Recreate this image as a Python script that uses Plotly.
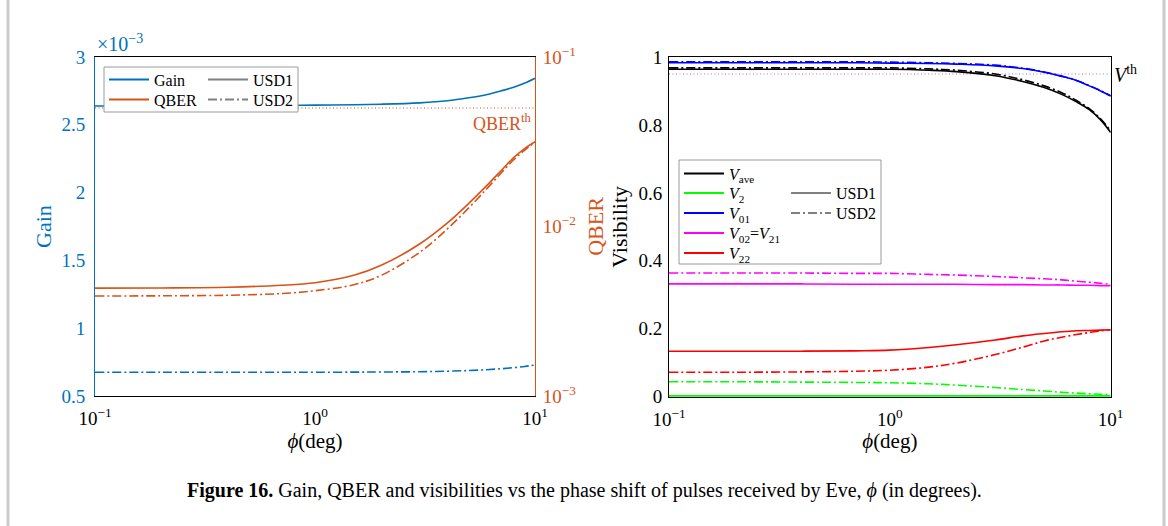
import numpy as np
import plotly.graph_objects as go

W, H = 1168, 526

# Phase shift of the pulses received by Eve (degrees)
phi = [0.1, 0.2, 0.4, 0.7, 1.0, 1.5, 2.0, 3.0, 4.0, 5.0, 6.0, 7.0, 8.0, 9.0, 10.0]

# Gain (in units of 1e-3)
gain_usd1 = [2.639, 2.639, 2.640, 2.642, 2.645, 2.648, 2.652, 2.662, 2.677, 2.699, 2.722, 2.750, 2.777, 2.808, 2.843]
gain_usd2 = [0.675, 0.675, 0.675, 0.675, 0.675, 0.676, 0.677, 0.679, 0.683, 0.688, 0.694, 0.701, 0.709, 0.718, 0.729]

# QBER
qber_usd1 = [0.00433, 0.00434, 0.00438, 0.00450, 0.00466, 0.00515, 0.00590, 0.00791, 0.01050,
             0.01370, 0.01730, 0.02130, 0.02550, 0.02890, 0.03160]
qber_usd2 = [0.00389, 0.00390, 0.00393, 0.00402, 0.00418, 0.00453, 0.00515, 0.00706, 0.00969,
             0.01288, 0.01656, 0.02061, 0.02477, 0.02831, 0.03141]
qber_th = 0.05

# Visibilities
v_ave_usd1 = [0.964, 0.964, 0.964, 0.964, 0.964, 0.961, 0.957, 0.945, 0.928, 0.910, 0.890, 0.868, 0.845, 0.815, 0.778]
v_ave_usd2 = [0.968, 0.968, 0.968, 0.968, 0.968, 0.965, 0.961, 0.950, 0.933, 0.915, 0.895, 0.872, 0.848, 0.818, 0.782]
v2_usd1 = [0.0] * 15
v2_usd2 = [0.044, 0.044, 0.043, 0.042, 0.041, 0.038, 0.034, 0.027, 0.021, 0.017, 0.013, 0.0105, 0.0085, 0.007, 0.006]
v01_usd1 = [0.983, 0.983, 0.983, 0.983, 0.982, 0.981, 0.979, 0.974, 0.966, 0.955, 0.943, 0.931, 0.915, 0.900, 0.885]
v01_usd2 = [0.986, 0.986, 0.986, 0.986, 0.985, 0.983, 0.981, 0.976, 0.967, 0.956, 0.944, 0.931, 0.916, 0.901, 0.886]
v02_usd1 = [0.332, 0.332, 0.332, 0.331, 0.331, 0.331, 0.331, 0.330, 0.330, 0.329, 0.329, 0.328, 0.328, 0.327, 0.327]
v02_usd2 = [0.364, 0.364, 0.364, 0.363, 0.363, 0.360, 0.358, 0.354, 0.350, 0.347, 0.344, 0.340, 0.337, 0.334, 0.331]
v22_usd1 = [0.134, 0.134, 0.134, 0.135, 0.137, 0.145, 0.153, 0.167, 0.179, 0.186, 0.191, 0.194, 0.195, 0.196, 0.197]
v22_usd2 = [0.072, 0.072, 0.073, 0.075, 0.078, 0.087, 0.099, 0.124, 0.146, 0.164, 0.175, 0.183, 0.189, 0.194, 0.197]
v_th = 0.95

log_ticks = [0.1, 1, 10]
log_ticktext = ["10<sup>−1</sup>", "10<sup>0</sup>", "10<sup>1</sup>"]
qber_ticks = [0.001, 0.01, 0.1]
qber_ticktext = ["10<sup>−3</sup>", "10<sup>−2</sup>", "10<sup>−1</sup>"]
gain_ticks = [0.5, 1, 1.5, 2, 2.5, 3]
gain_ticktext = ["0.5", "1", "1.5", "2", "2.5", "3"]
vis_ticks = [0, 0.2, 0.4, 0.6, 0.8, 1]
vis_ticktext = ["0", "0.2", "0.4", "0.6", "0.8", "1"]

BLUE = "#0072BD"
ORANGE = "#D95319"
GRAY = "#808080"
DASHDOT = "9px,3px,2px,3px"
FONT = "Liberation Serif"

fig = go.Figure()


def px_x(v):
    return v / W


def px_y(v):
    return 1 - v / H


def curve(x, y, color, dash, xa, ya, width=1.6):
    fig.add_trace(go.Scatter(x=x, y=y, mode="lines", xaxis=xa, yaxis=ya,
                             line=dict(color=color, width=width, dash=dash, shape="spline", smoothing=1.0),
                             showlegend=False, hoverinfo="skip"))


# Left panel: gain and QBER
curve(phi, gain_usd1, BLUE, "solid", "x", "y")
curve(phi, gain_usd2, BLUE, DASHDOT, "x", "y")
curve(phi, qber_usd1, ORANGE, "solid", "x", "y2")
curve(phi, qber_usd2, ORANGE, DASHDOT, "x", "y2")
fig.add_trace(go.Scatter(x=[phi[0], phi[-1]], y=[qber_th, qber_th], mode="lines", xaxis="x", yaxis="y2",
                         line=dict(color=ORANGE, width=1.2, dash="1px,2.5px"), showlegend=False, hoverinfo="skip"))

# Right panel: visibilities
fig.add_trace(go.Scatter(x=[phi[0], phi[-1]], y=[v_th, v_th], mode="lines", xaxis="x2", yaxis="y3",
                         line=dict(color="#b070d0", width=1.2, dash="1px,2.5px"), showlegend=False, hoverinfo="skip"))
curve(phi, v2_usd1, "#00FF00", "solid", "x2", "y3", width=3.5)
curve(phi, v2_usd2, "#00FF00", DASHDOT, "x2", "y3")
curve(phi, v02_usd1, "#FF00FF", "solid", "x2", "y3")
curve(phi, v02_usd2, "#FF00FF", DASHDOT, "x2", "y3")
curve(phi, v22_usd1, "#FF0000", "solid", "x2", "y3")
curve(phi, v22_usd2, "#FF0000", DASHDOT, "x2", "y3")
curve(phi, v01_usd1, "#0000FF", "solid", "x2", "y3")
curve(phi, v01_usd2, "#0000FF", DASHDOT, "x2", "y3")
curve(phi, v_ave_usd1, "black", "solid", "x2", "y3")
curve(phi, v_ave_usd2, "black", DASHDOT, "x2", "y3")

# Legend entries: one single-item legend per row so the rows can sit tightly
legend_layout = {}
legend_rows = [
    ("Gain", BLUE, "solid", 104, 79.5),
    ("QBER", ORANGE, "solid", 104, 99.5),
    ("USD1", GRAY, "solid", 203, 79.5),
    ("USD2", GRAY, DASHDOT, 203, 99.5),
    ("<i>V</i><sub>ave</sub>", "black", "solid", 679, 173.5),
    ("<i>V</i><sub>2</sub>", "#00FF00", "solid", 679, 193),
    ("<i>V</i><sub>01</sub>", "#0000FF", "solid", 679, 213),
    ("<i>V</i><sub>02</sub>=<i>V</i><sub>21</sub>", "#FF00FF", "solid", 679, 233),
    ("<i>V</i><sub>22</sub>", "#FF0000", "solid", 679, 253),
    ("USD1", GRAY, "solid", 786, 193),
    ("USD2", GRAY, DASHDOT, 786, 213),
]
for i, (name, color, dash, lx, ly) in enumerate(legend_rows):
    key = "legend" if i == 0 else f"legend{i + 1}"
    fig.add_trace(go.Scatter(x=[None], y=[None], mode="lines", name=name, legend=key,
                             line=dict(color=color, width=2, dash=dash), xaxis="x", yaxis="y"))
    legend_layout[key] = dict(x=px_x(lx), y=px_y(ly), xanchor="left", yanchor="middle",
                              bgcolor="rgba(0,0,0,0)", borderwidth=0, itemwidth=40,
                              font=dict(family=FONT, size=16, color="black"),
                              itemclick=False, itemdoubleclick=False)

axis_common = dict(showgrid=False, zeroline=False, ticks="", showline=True, linewidth=1, automargin=False,
                   tickfont=dict(family=FONT, size=19))

fig.update_layout(
    template="none",
    width=W, height=H, margin=dict(l=0, r=0, t=0, b=0, autoexpand=False),
    paper_bgcolor="white", plot_bgcolor="white",
    font=dict(family=FONT, size=18, color="black"),
    xaxis=dict(domain=[px_x(95), px_x(535)], type="log", range=[-1, 1], anchor="y",
               tickvals=log_ticks, ticktext=log_ticktext, linecolor="black", mirror=True, ticklabelstandoff=5,
               title=dict(text="<i>ϕ</i>(deg)", font=dict(size=21), standoff=2), **axis_common),
    yaxis=dict(domain=[px_y(396), px_y(57)], range=[0.5, 3], anchor="x",
               tickvals=gain_ticks, ticktext=gain_ticktext, color=BLUE, ticklabelstandoff=5,
               title=dict(text="Gain", font=dict(size=22, color=BLUE), standoff=3), **axis_common),
    yaxis2=dict(overlaying="y", side="right", type="log", range=[-3, -1], anchor="x",
                tickvals=qber_ticks, ticktext=qber_ticktext, color=ORANGE, ticklabelstandoff=3,
                title=dict(text="QBER", font=dict(size=22, color=ORANGE), standoff=12), **axis_common),
    xaxis2=dict(domain=[px_x(669), px_x(1110.7)], type="log", range=[-1, 1], anchor="y3",
                tickvals=log_ticks, ticktext=log_ticktext, linecolor="black", mirror=True,
                layer="below traces", ticklabelstandoff=5,
                title=dict(text="<i>ϕ</i>(deg)", font=dict(size=21), standoff=2), **axis_common),
    yaxis3=dict(domain=[px_y(396.7), px_y(57)], range=[0, 1], anchor="x2",
                tickvals=vis_ticks, ticktext=vis_ticktext, linecolor="black", mirror=True,
                layer="below traces", ticklabelstandoff=2,
                title=dict(text="Visibility", font=dict(size=22), standoff=4), **axis_common),
    showlegend=True,
    **legend_layout,
)

# Legend frames (white fill hides the curves running underneath)
fig.add_shape(type="rect", xref="paper", yref="paper", x0=px_x(104), x1=px_x(298), y0=px_y(112), y1=px_y(67),
              line=dict(color="#9a9a9a", width=1), fillcolor="white", layer="above")
fig.add_shape(type="rect", xref="paper", yref="paper", x0=px_x(679), x1=px_x(881), y0=px_y(264), y1=px_y(160),
              line=dict(color="#9a9a9a", width=1), fillcolor="white", layer="above")

# Page frame
for xv in (8, 1164):
    fig.add_shape(type="line", xref="paper", yref="paper", x0=px_x(xv), x1=px_x(xv), y0=0, y1=1,
                  line=dict(color="#cccccc", width=3), layer="below")

# Threshold labels and exponent
fig.add_annotation(x=np.log10(phi[-1]), y=np.log10(qber_th), xref="x", yref="y2", text="QBER<sup>th</sup>",
                   showarrow=False, xanchor="right", yanchor="top", yshift=-1, xshift=-1,
                   font=dict(family=FONT, size=18, color=ORANGE))
fig.add_annotation(x=np.log10(phi[-1]), y=v_th, xref="x2", yref="y3", text="<i>V</i><sup>th</sup>",
                   showarrow=False, xanchor="left", yanchor="middle", xshift=1,
                   font=dict(family=FONT, size=20, color="black"))
fig.add_annotation(x=px_x(95), y=px_y(57), xref="paper", yref="paper", text="×10<sup>−3</sup>",
                   showarrow=False, xanchor="left", yanchor="bottom", yshift=0,
                   font=dict(family=FONT, size=20, color=BLUE))

# Caption
fig.add_annotation(x=px_x(584), y=px_y(490), xref="paper", yref="paper",
                   text="<b>Figure 16.</b> Gain, QBER and visibilities vs the phase shift of pulses received by Eve, "
                        "<i>ϕ</i> (in degrees).",
                   showarrow=False, xanchor="center", yanchor="middle",
                   font=dict(family=FONT, size=20, color="black"))

fig.write_html("out.html")
